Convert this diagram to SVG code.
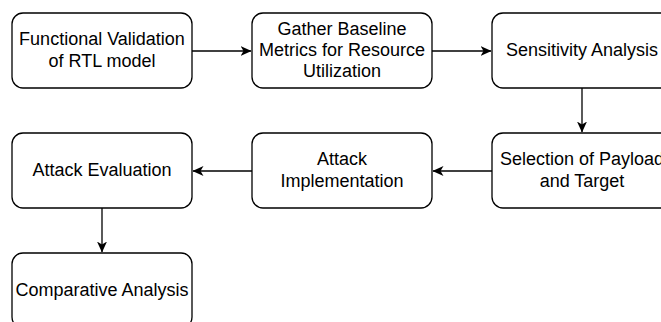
<svg xmlns="http://www.w3.org/2000/svg" width="661" height="322" viewBox="0 0 661 322">
<style>
.box{fill:#fff;stroke:#000;stroke-width:1.3}
.t{font-family:"Liberation Sans",Arial,sans-serif;font-size:18px;fill:#000;text-anchor:middle}
.c{stroke:#000;stroke-width:1.3;fill:none}
</style>
<defs>
<marker id="arr" viewBox="0 0 11 10" refX="10.5" refY="5" markerWidth="11" markerHeight="10" markerUnits="userSpaceOnUse" orient="auto">
<path d="M0,0 L11,5 L0,10 L3,5 Z" fill="#000"/>
</marker>
</defs>
<rect width="661" height="322" fill="#fff"/>
<g id="connectors">
<path class="c" d="M192,51 L251,51" marker-end="url(#arr)"/>
<path class="c" d="M432,51 L491,51" marker-end="url(#arr)"/>
<path class="c" d="M582,88 L582,132" marker-end="url(#arr)"/>
<path class="c" d="M492,171 L433,171" marker-end="url(#arr)"/>
<path class="c" d="M252,171 L193,171" marker-end="url(#arr)"/>
<path class="c" d="M102,208 L102,252" marker-end="url(#arr)"/>
</g>
<g id="n1"><rect class="box" x="12" y="13" width="180" height="75" rx="11"/>
<text class="t" x="102" y="45">Functional Validation</text><text class="t" x="102" y="67">of RTL model</text></g>
<g id="n2"><rect class="box" x="252" y="13" width="180" height="75" rx="11"/>
<text class="t" x="342" y="35">Gather Baseline</text><text class="t" x="342" y="56">Metrics for Resource</text><text class="t" x="342" y="77">Utilization</text></g>
<g id="n3"><rect class="box" x="492" y="13" width="180" height="75" rx="11"/>
<text class="t" x="582" y="56">Sensitivity Analysis</text></g>
<g id="n4"><rect class="box" x="492" y="133" width="180" height="75" rx="11"/>
<text class="t" x="582" y="165">Selection of Payload</text><text class="t" x="582" y="187">and Target</text></g>
<g id="n5"><rect class="box" x="252" y="133" width="180" height="75" rx="11"/>
<text class="t" x="342" y="165">Attack</text><text class="t" x="342" y="187">Implementation</text></g>
<g id="n6"><rect class="box" x="12" y="133" width="180" height="75" rx="11"/>
<text class="t" x="102" y="176">Attack Evaluation</text></g>
<g id="n7"><rect class="box" x="12" y="253" width="180" height="75" rx="11"/>
<text class="t" x="102" y="296">Comparative Analysis</text></g>
</svg>
